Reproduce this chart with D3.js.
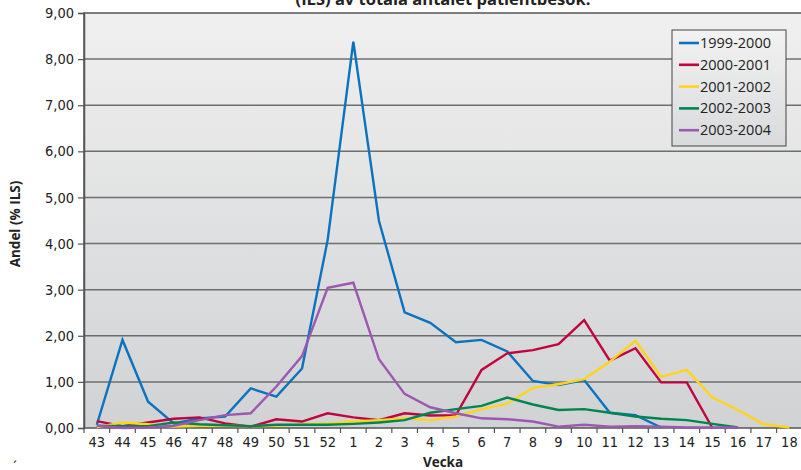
<!DOCTYPE html>
<html><head><meta charset="utf-8">
<script src="https://cdn.jsdelivr.net/npm/d3@7"></script>
<style>
body{margin:0;background:#fff;}
svg{display:block;}
.cond{font-family:"Liberation Sans Narrow","DejaVu Sans Condensed","Roboto Condensed",sans-serif;font-stretch:condensed;}
</style>
</head><body>
<svg id="chart" width="801" height="470"></svg>
<script>
const weeks = ["43","44","45","46","47","48","49","50","51","52","1","2","3","4","5","6","7","8","9","10","11","12","13","14","15","16","17","18"];
const seriesNames = ["1999-2000","2000-2001","2001-2002","2002-2003","2003-2004"];
const seriesColors = ["#0a73c0","#c0053e","#ffd51a","#008550","#9b59b0"];
const s1999 = [0.07,1.91,0.57,0.10,0.21,0.25,0.86,0.68,1.29,4.08,8.38,4.49,2.51,2.28,1.86,1.91,1.66,1.02,0.93,1.04,0.33,0.28,0.01,null,null,null,null,null];
const s2000 = [0.15,0.04,0.12,0.20,0.23,0.10,0.03,0.19,0.14,0.32,0.23,0.17,0.32,0.27,0.28,1.26,1.62,1.69,1.82,2.34,1.46,1.73,0.99,0.99,0.00,null,null,null];
const s2001 = [0.02,0.12,0.08,0.03,0.05,0.05,0.04,0.05,0.08,0.10,0.14,0.17,0.21,0.17,0.25,0.41,0.53,0.87,0.95,1.06,1.44,1.89,1.11,1.26,0.66,0.39,0.08,0.01];
const s2002 = [0.05,0.04,0.04,0.12,0.08,0.06,0.04,0.07,0.07,0.07,0.09,0.12,0.17,0.33,0.41,0.48,0.66,0.51,0.39,0.41,0.33,0.25,0.20,0.17,0.09,0.01,null,null];
const s2003 = [0.05,0.00,0.01,0.05,0.17,0.28,0.32,0.90,1.56,3.04,3.15,1.49,0.74,0.45,0.32,0.21,0.19,0.14,0.03,0.07,0.03,0.04,0.03,0.01,0.01,0.01,null,null];
const yTicks = [0,1,2,3,4,5,6,7,8,9];
const allSeries = [s1999,s2000,s2001,s2002,s2003];

const svg = d3.select("#chart");
const L = 84, T = 13, B = 428;
const band = 25.65;
const R = L + band * weeks.length;

const x = d3.scaleBand().domain(weeks).range([L, R]).padding(0);
const y = d3.scaleLinear().domain([0, 9]).range([B, T]);

const defs = svg.append("defs");
const g1 = defs.append("linearGradient").attr("id","bg").attr("x1",0).attr("y1",0).attr("x2",0).attr("y2",1);
g1.append("stop").attr("offset","0%").attr("stop-color","#f0f0f0");
g1.append("stop").attr("offset","100%").attr("stop-color","#d1d2d4");
const g2 = defs.append("linearGradient").attr("id","lg").attr("x1",0).attr("y1",0).attr("x2",0).attr("y2",1);
g2.append("stop").attr("offset","0%").attr("stop-color","#f2f2f2");
g2.append("stop").attr("offset","100%").attr("stop-color","#d9dadc");

svg.append("rect").attr("x",L).attr("y",T).attr("width",R-L).attr("height",B-T).attr("fill","url(#bg)");

// gridlines
svg.append("g").selectAll("line").data(yTicks.filter(d=>d>0 && d<9)).join("line")
  .attr("x1",L).attr("x2",R).attr("y1",d=>y(d)).attr("y2",d=>y(d))
  .attr("stroke","#6e6e6e").attr("stroke-width",1.5);

// frame
svg.append("rect").attr("x",L).attr("y",T).attr("width",R-L).attr("height",B-T)
  .attr("fill","none").attr("stroke","#555").attr("stroke-width",1.5);

// y axis
const yAxis = d3.axisLeft(y).tickValues(yTicks).tickSize(6).tickPadding(4)
  .tickFormat(d => d3.format(".2f")(d).replace(".", ","));
const ya = svg.append("g").attr("transform",`translate(${L},0)`).call(yAxis);
ya.select(".domain").attr("stroke","#555").attr("stroke-width",1.5);
ya.selectAll(".tick line").attr("stroke","#555").attr("stroke-width",1.2);
ya.selectAll("text").attr("class","cond").attr("font-size",14.5).attr("fill","#222");

// x axis
const xAxis = d3.axisBottom(x).tickSize(0).tickPadding(9);
const xa = svg.append("g").attr("transform",`translate(0,${B})`).call(xAxis);
xa.select(".domain").remove();
xa.selectAll("text").attr("class","cond").attr("font-size",14.5).attr("fill","#222");
svg.append("g").selectAll("line").data(d3.range(weeks.length+1)).join("line")
  .attr("x1",i=>L+i*band).attr("x2",i=>L+i*band).attr("y1",B).attr("y2",B+5)
  .attr("stroke","#555").attr("stroke-width",1.2);

// lines
const line = d3.line().defined(d=>d!=null).x((d,i)=>x(weeks[i])+x.bandwidth()/2).y(d=>y(d));
allSeries.forEach((s,k)=>{
  svg.append("path").datum(s).attr("d",line).attr("fill","none")
    .attr("stroke",seriesColors[k]).attr("stroke-width",2.4).attr("stroke-linejoin","miter");
});

// legend
const lx = 672, ly = 30, lw = 114, lh = 116;
svg.append("rect").attr("x",lx).attr("y",ly).attr("width",lw).attr("height",lh)
  .attr("fill","url(#lg)").attr("stroke","#444").attr("stroke-width",1);
const lg = svg.append("g").selectAll("g").data(seriesNames).join("g")
  .attr("transform",(d,i)=>`translate(${lx+7},${ly+13+i*21.8})`);
lg.append("line").attr("x1",0).attr("x2",20).attr("y1",0).attr("y2",0)
  .attr("stroke",(d,i)=>seriesColors[i]).attr("stroke-width",2.6);
lg.append("text").attr("x",21).attr("y",5).text(d=>d)
  .attr("font-family","'Open Sans',sans-serif").attr("font-size",14.5).attr("fill","#222");

// title (partially visible, as in the reference)
svg.append("text").attr("x",443).attr("y",5).attr("text-anchor","middle")
  .attr("font-family","'Open Sans',sans-serif").attr("font-weight","bold").attr("font-size",16.5)
  .attr("fill","#222").text("(ILS) av totala antalet patientbesök.");

// axis titles
svg.append("text").attr("x",443).attr("y",467).attr("text-anchor","middle")
  .attr("font-family","'Open Sans',sans-serif").attr("font-weight","bold").attr("font-size",13.5).attr("fill","#222").text("Vecka");
svg.append("text").attr("transform","translate(20,224) rotate(-90)").attr("text-anchor","middle")
  .attr("font-family","'Open Sans',sans-serif").attr("font-weight","bold").attr("font-size",13.5).attr("fill","#222").text("Andel (% ILS)");
svg.append("text").attr("x",13).attr("y",472).attr("font-family","'Open Sans',sans-serif")
  .attr("font-size",14).attr("fill","#222").text("´");
</script>
</body></html>
